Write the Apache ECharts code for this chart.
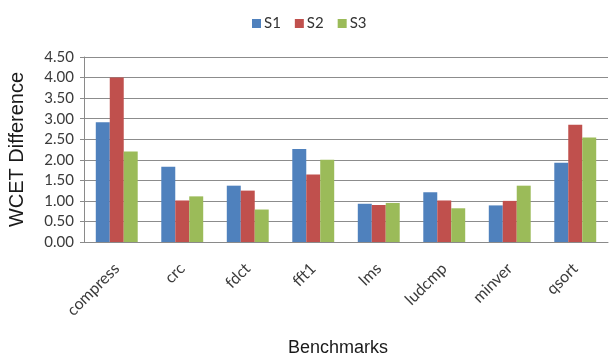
<!DOCTYPE html>
<html>
<head>
<meta charset="utf-8">
<script src="https://cdn.jsdelivr.net/npm/echarts@6/dist/echarts.min.js"></script>
<style>
  html, body { margin: 0; padding: 0; background: #fff; }
  #chart { width: 611px; height: 356px; }
</style>
</head>
<body>
<div id="chart"></div>
<script>
// Benchmarks on the x axis
const benchmarks = ['compress', 'crc', 'fdct', 'fft1', 'lms', 'ludcmp', 'minver', 'qsort'];

// WCET difference per scenario
const s1 = [2.91, 1.83, 1.37, 2.26, 0.93, 1.21, 0.89, 1.93];
const s2 = [4.00, 1.01, 1.25, 1.64, 0.90, 1.01, 1.00, 2.85];
const s3 = [2.20, 1.11, 0.79, 2.00, 0.95, 0.82, 1.37, 2.54];

const seriesNames = ['S1', 'S2', 'S3'];
const seriesColors = ['#4F81BD', '#C0504D', '#9BBB59'];

const chart = echarts.init(document.getElementById('chart'), null, { renderer: 'canvas' });

const labelFont = 'Lato, "Open Sans", sans-serif';
const nameFont = '"Liberation Sans", Arial, sans-serif';

chart.setOption({
  animation: false,
  backgroundColor: '#ffffff',
  legend: {
    data: seriesNames,
    top: 11,
    left: 247,
    itemWidth: 9,
    itemHeight: 9,
    itemGap: 14,
    icon: 'rect',
    textStyle: { fontFamily: labelFont, fontSize: 15, color: '#333333', padding: [0, 0, 0, -2] }
  },
  grid: { left: 84, right: 3, top: 57, bottom: 114, outerBoundsMode: 'none', containLabel: false },
  xAxis: {
    type: 'category',
    data: benchmarks,
    name: 'Benchmarks',
    nameLocation: 'middle',
    nameGap: 97,
    nameTextStyle: { fontFamily: nameFont, fontSize: 18, color: '#1a1a1a', padding: [0, 16, 0, 0] },
    axisLine: { lineStyle: { color: '#8a8a8a', width: 1 } },
    axisTick: { show: false },
    axisLabel: {
      rotate: 45,
      interval: 0,
      margin: 24,
      fontFamily: labelFont,
      fontSize: 16,
      color: '#3a3a3a'
    }
  },
  yAxis: {
    type: 'value',
    min: 0,
    max: 4.5,
    interval: 0.5,
    name: 'WCET Difference',
    nameLocation: 'middle',
    nameGap: 57,
    nameTextStyle: { fontFamily: nameFont, fontSize: 20, color: '#1a1a1a' },
    axisLine: { show: true, lineStyle: { color: '#8a8a8a', width: 1 } },
    axisTick: { show: true, length: 4, lineStyle: { color: '#8a8a8a' } },
    axisLabel: {
      margin: 10,
      fontFamily: labelFont,
      fontSize: 15,
      color: '#3a3a3a',
      formatter: v => v.toFixed(2)
    },
    splitLine: { lineStyle: { color: '#8c8c8c', width: 1 } }
  },
  series: [s1, s2, s3].map((vals, i) => ({
    name: seriesNames[i],
    type: 'bar',
    data: vals,
    barGap: '0%',
    barCategoryGap: '36%',
    itemStyle: { color: seriesColors[i] }
  }))
});
</script>
</body>
</html>
